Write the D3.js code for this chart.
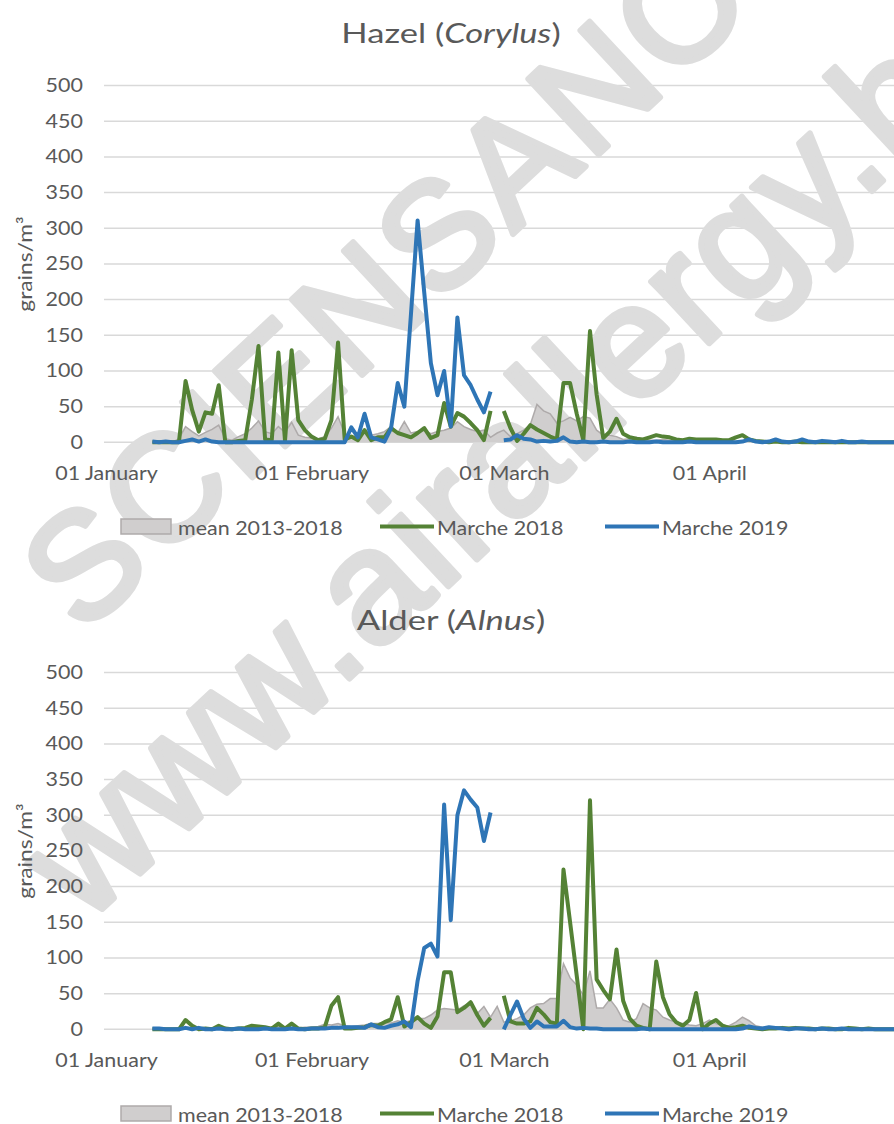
<!DOCTYPE html>
<html><head><meta charset="utf-8">
<script src="https://cdn.jsdelivr.net/npm/d3@7"></script>
<style>body{margin:0;background:#fff;overflow:hidden} svg{display:block}</style>
</head><body>
<svg id="c" width="894" height="1124"></svg>
<script>
// ---------- data (day index 0 = 01 January; calendar includes 29 Feb) ----------
const startDay = 7;
const monthTickDays = [0, 31, 60, 91];
const monthTickLabels = ["01 January", "01 February", "01 March", "01 April"];
const yTickValues = [0, 50, 100, 150, 200, 250, 300, 350, 400, 450, 500];
const seriesNames = ["mean 2013-2018", "Marche 2018", "Marche 2019"];

const hazelMean = [
  0,0,0,0,5,22,15,9,14,18,
  24,5,3,8,12,20,30,15,12,22,
  14,28,10,7,6,5,8,20,36,12,
  8,9,14,10,12,15,22,13,29,13,
  15,17,12,15,17,20,29,22,18,15,
  17,7,13,17,8,12,17,25,53,44,
  40,27,30,35,30,36,34,17,10,10,
  8,4,5,7,4,3,3,4,3,2,
  2,3,2,2,2,1,1,2,1,2,
  1,1,1,1,0,1,0,1,0,0,
  0,1,0,0,0,0,1,0,0,0,
  0,0,0];
const hazel2018 = [
  0,0,0,0,0,86,45,15,42,40,
  80,0,0,2,3,60,135,4,3,126,
  2,129,31,17,8,3,5,31,140,4,
  8,3,17,3,7,7,20,13,10,7,
  13,20,6,10,55,22,41,36,27,17,
  3,44,null,44,20,2,12,24,18,13,
  8,4,83,83,40,3,156,67,6,15,
  33,12,7,5,4,7,10,8,7,4,
  3,5,4,4,4,4,3,3,7,10,
  4,2,1,0,1,0,0,1,0,0,
  0,0,0,0,0,0,0,0,0,0,
  0,0,0];
const hazel2019 = [
  1,0,1,0,0,2,4,1,4,1,
  0,0,0,0,0,0,0,0,0,0,
  0,0,0,0,0,0,0,0,0,0,
  21,7,40,7,4,1,20,83,50,180,
  311,210,111,66,100,22,175,94,80,60,
  42,71,null,3,4,10,5,4,1,2,
  1,2,7,1,0,1,0,0,1,0,
  0,0,1,0,0,0,1,0,0,0,
  0,1,0,0,0,0,0,0,0,1,
  4,1,0,1,4,1,0,1,4,1,
  0,2,1,0,2,0,0,1,0,0,
  0,0,0];

const alderMean = [
  0,0,1,1,2,3,2,1,1,2,
  2,2,1,2,2,3,3,2,3,4,
  3,2,2,3,3,4,7,6,8,5,
  4,5,6,8,8,10,9,12,10,12,
  15,15,20,27,29,28,27,33,36,22,
  32,17,32,10,12,15,20,30,35,36,
  43,43,92,72,62,48,82,30,30,42,
  30,13,10,15,36,30,27,17,13,10,
  8,6,5,8,13,8,5,5,10,17,
  12,5,3,2,2,2,1,1,1,1,
  1,1,1,1,1,1,1,1,1,1,
  1,1,1];
const alder2018 = [
  0,0,0,0,0,13,5,0,1,0,
  5,1,0,1,2,5,4,3,1,8,
  1,8,1,0,1,1,3,33,45,1,
  1,2,3,6,5,10,14,45,4,10,
  17,8,2,18,80,80,24,30,38,20,
  5,16,null,47,11,8,8,11,30,21,
  10,8,224,150,75,0,321,70,55,42,
  112,40,15,5,2,0,95,45,21,10,
  5,13,51,0,8,13,5,2,3,5,
  2,1,0,1,1,2,1,2,1,1,
  0,1,1,0,0,2,1,0,1,0,
  0,0,0];
const alder2019 = [
  1,1,0,0,0,2,0,2,0,0,
  1,0,0,1,0,0,0,1,0,0,
  0,1,0,0,1,1,1,2,2,3,
  3,3,2,7,3,2,5,7,11,3,
  68,114,120,102,315,153,300,335,322,311,
  264,304,null,0,20,39,15,2,11,4,
  4,4,12,3,1,2,1,1,0,0,
  0,0,0,0,1,0,0,0,0,0,
  0,0,0,0,0,0,0,0,0,1,
  4,2,1,3,2,1,0,1,1,0,
  0,1,0,0,1,0,0,0,0,0,
  0,0,0];

const panelTitles = [["Hazel (", "Corylus", ")"], ["Alder (", "Alnus", ")"]];
const panelData = [[hazelMean, hazel2018, hazel2019], [alderMean, alder2018, alder2019]];
const watermarkTexts = ["SCIENSANO", "www.airallergy.be"];

// ---------- drawing ----------
const svg = d3.select("#c");
const FONT = "Lato, 'Open Sans', sans-serif";
const TXT = "#595959";
const colors = {mean: "#d0cece", meanStroke: "#aeaaaa", g: "#548235", b: "#2e75b6", grid: "#d9d9d9"};
const panelGap = 587;
const STRETCH = 1.16;   // the reference text is horizontally wide

function stretch(sel, k) {
  sel.each(function () {
    const w = this.getComputedTextLength();
    this.setAttribute("textLength", (w * k).toFixed(1));
    this.setAttribute("lengthAdjust", "spacingAndGlyphs");
  });
}

const x = d3.scaleLinear().domain([0, 120]).range([106, 106 + 6.63 * 120]);

svg.append("rect").attr("width", 894).attr("height", 1124).attr("fill", "#fff");

const gridLayer = svg.append("g");
const wmLayer = svg.append("g");
const dataLayer = svg.append("g");
const textLayer = svg.append("g");

panelData.forEach((ser, p) => {
  const off = p * panelGap;
  const y = d3.scaleLinear().domain([0, 500]).range([442.3 + off, 85.6 + off]);

  // gridlines
  gridLayer.selectAll(null).data(yTickValues).enter().append("line")
    .attr("x1", 104).attr("x2", 894)
    .attr("y1", d => y(d)).attr("y2", d => y(d))
    .attr("stroke", colors.grid).attr("stroke-width", 1.5);

  // y axis tick labels
  const yAxis = d3.axisLeft(y).tickValues(yTickValues).tickSize(0).tickPadding(0);
  const ya = textLayer.append("g").attr("transform", "translate(83,0)").call(yAxis);
  ya.select(".domain").remove();
  ya.selectAll("text").attr("font-family", FONT).attr("font-size", 18.5).attr("fill", TXT);
  stretch(ya.selectAll("text"), STRETCH);

  // x axis labels
  const xAxis = d3.axisBottom(x).tickValues(monthTickDays).tickFormat((d, i) => monthTickLabels[i]).tickSize(0).tickPadding(0);
  const xa = textLayer.append("g").attr("transform", `translate(0,${y(0) + 25})`).call(xAxis);
  xa.select(".domain").remove();
  xa.selectAll("text").attr("font-family", FONT).attr("font-size", 18.5).attr("fill", TXT);
  stretch(xa.selectAll("text"), STRETCH);

  // title
  const t = textLayer.append("text").attr("x", 451).attr("y", 43 + off)
    .attr("text-anchor", "middle").attr("font-family", FONT).attr("font-size", 27).attr("fill", TXT);
  t.append("tspan").text(panelTitles[p][0]);
  t.append("tspan").attr("font-style", "italic").text(panelTitles[p][1]);
  t.append("tspan").text(panelTitles[p][2]);
  stretch(t, 1.28);

  // y axis title
  const yt = textLayer.append("text").attr("transform", `translate(32,${264 + off}) rotate(-90)`)
    .attr("text-anchor", "middle").attr("font-family", FONT).attr("font-size", 19).attr("fill", TXT)
    .text("grains/m³");
  stretch(yt, 1.2);

  // data
  const xi = (d, i) => x(startDay + i);
  const area = d3.area().x(xi).y0(y(0)).y1(d => y(d));
  const areaTop = d3.line().x(xi).y(d => y(d));
  const line = d3.line().defined(d => d != null).x(xi).y(d => y(d));

  dataLayer.append("path").attr("d", area(ser[0])).attr("fill", colors.mean);
  dataLayer.append("path").attr("d", areaTop(ser[0])).attr("fill", "none")
    .attr("stroke", colors.meanStroke).attr("stroke-width", 1.5);
  dataLayer.append("path").attr("d", line(ser[1])).attr("fill", "none")
    .attr("stroke", colors.g).attr("stroke-width", 4).attr("stroke-linejoin", "round");
  dataLayer.append("path").attr("d", line(ser[2])).attr("fill", "none")
    .attr("stroke", colors.b).attr("stroke-width", 4).attr("stroke-linejoin", "round");

  // legend
  const ly = 526.5 + off;
  const lg = textLayer.append("g");
  lg.append("rect").attr("x", 121).attr("y", ly - 7.5).attr("width", 50).attr("height", 15)
    .attr("fill", colors.mean).attr("stroke", colors.meanStroke).attr("stroke-width", 1.5);
  lg.append("line").attr("x1", 380).attr("x2", 434).attr("y1", ly).attr("y2", ly)
    .attr("stroke", colors.g).attr("stroke-width", 4.2);
  lg.append("line").attr("x1", 605).attr("x2", 659).attr("y1", ly).attr("y2", ly)
    .attr("stroke", colors.b).attr("stroke-width", 4.2);
  const lx = [178, 437, 662];
  seriesNames.forEach((n, i) => {
    const tt = lg.append("text").attr("x", lx[i]).attr("y", ly + 8).attr("font-family", FONT)
      .attr("font-size", 18.5).attr("fill", TXT).text(n);
    stretch(tt, STRETCH);
  });
});

// watermark
const WMF = "'Liberation Sans', Arial, sans-serif";
const WMC = "#dddddd";
wmLayer.append("text").attr("transform", "translate(422,319) rotate(-43)")
  .attr("text-anchor", "middle").attr("font-family", WMF)
  .attr("font-size", 150).attr("fill", WMC).attr("stroke", WMC).attr("stroke-width", 6)
  .attr("stroke-linejoin", "round").attr("letter-spacing", 5).text(watermarkTexts[0]);
wmLayer.append("text").attr("transform", "translate(85,925) rotate(-43)")
  .attr("text-anchor", "start").attr("font-family", WMF)
  .attr("font-size", 160).attr("fill", WMC).attr("stroke", WMC).attr("stroke-width", 6)
  .attr("stroke-linejoin", "round").attr("letter-spacing", 3).text(watermarkTexts[1]);
</script>
</body></html>
